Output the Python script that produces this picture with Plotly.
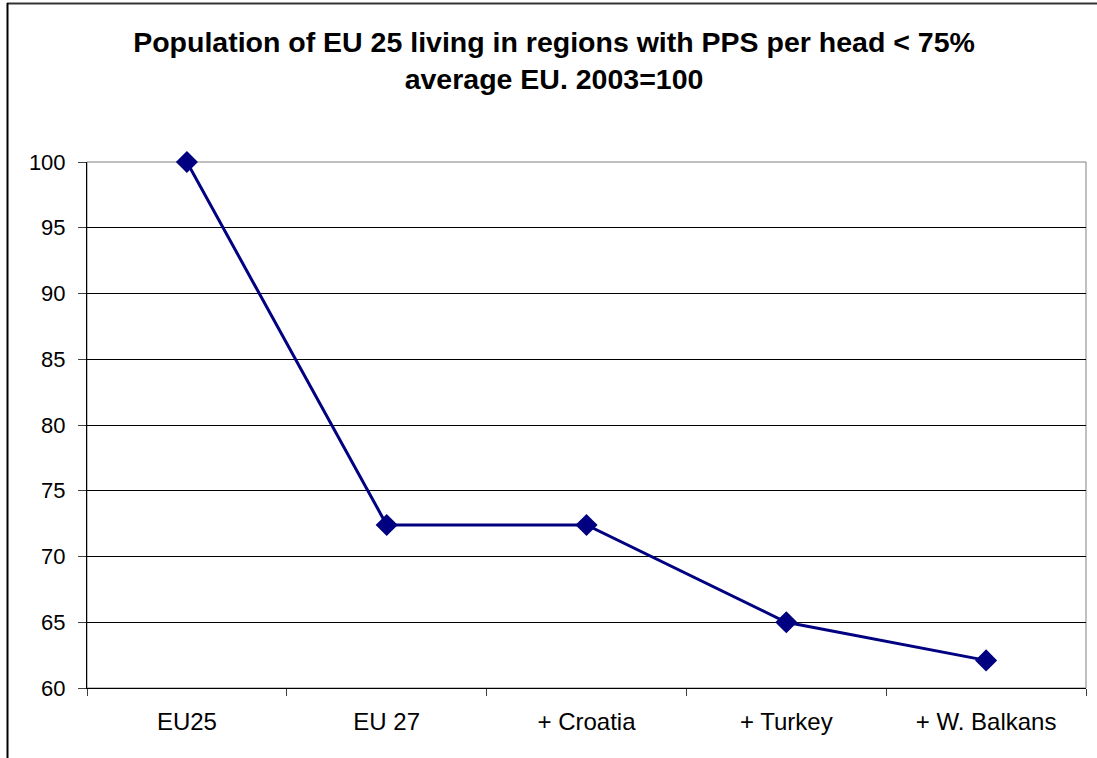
import plotly.graph_objects as go

categories = ["EU25", "EU 27", "+ Croatia", "+ Turkey", "+ W. Balkans"]
values = [100, 72.4, 72.4, 65.0, 62.1]
y_ticks = [60, 65, 70, 75, 80, 85, 90, 95, 100]

W, H = 1097, 758
L, R, T, B = 87, 1086, 162, 688
PW, PH = R - L, B - T

def px(x):
    return (x - L) / PW

def py(y):
    return (B - y) / PH

fig = go.Figure()
fig.add_trace(go.Scatter(
    x=categories, y=values, mode="lines+markers",
    line=dict(color="#000080", width=3),
    marker=dict(symbol="diamond", size=17, color="#000080"),
    showlegend=False, cliponaxis=False,
))

shapes = [
    # plot area border (gray)
    dict(type="rect", xref="paper", yref="paper", x0=0, x1=1, y0=0, y1=1,
         line=dict(color="#808080", width=1), layer="between"),
    # outer chart frame
    dict(type="line", xref="paper", yref="paper", x0=px(7), x1=px(1110), y0=py(3.5), y1=py(3.5),
         line=dict(color="#333333", width=2), layer="above"),
    dict(type="line", xref="paper", yref="paper", x0=px(7.5), x1=px(7.5), y0=py(3), y1=py(770),
         line=dict(color="#000000", width=2), layer="above"),
]

fig.update_layout(
    width=W, height=H,
    margin=dict(l=L, r=W - R, t=T, b=H - B),
    paper_bgcolor="white", plot_bgcolor="white",
    font=dict(family="Liberation Sans, Arial, sans-serif", color="black"),
    title=dict(
        text="Population of EU 25 living in regions with PPS per head < 75%<br>average EU. 2003=100",
        x=554 / W, xanchor="center", xref="container",
        y=1 - 52 / H, yanchor="top", yref="container",
        font=dict(size=28.5, family="Liberation Sans, Arial, sans-serif", color="black", weight="bold"),
    ),
    shapes=shapes,
    xaxis=dict(
        type="category", range=[-0.5, len(categories) - 0.5],
        showgrid=False, showline=True, linecolor="black", linewidth=1,
        ticks="outside", tickson="boundaries", ticklen=7, tickcolor="#404040",
        tickfont=dict(size=24, color="black"), ticklabelstandoff=12,
        zeroline=False,
    ),
    yaxis=dict(
        range=[60, 100], tickvals=y_ticks, ticktext=[str(v) for v in y_ticks],
        showgrid=True, gridcolor="#000000", gridwidth=1,
        showline=True, linecolor="black", linewidth=1,
        ticks="outside", ticklen=8, tickcolor="#404040",
        tickfont=dict(size=22, color="black"), ticklabelstandoff=8,
        zeroline=False,
    ),
)

fig.write_html("out.html")
